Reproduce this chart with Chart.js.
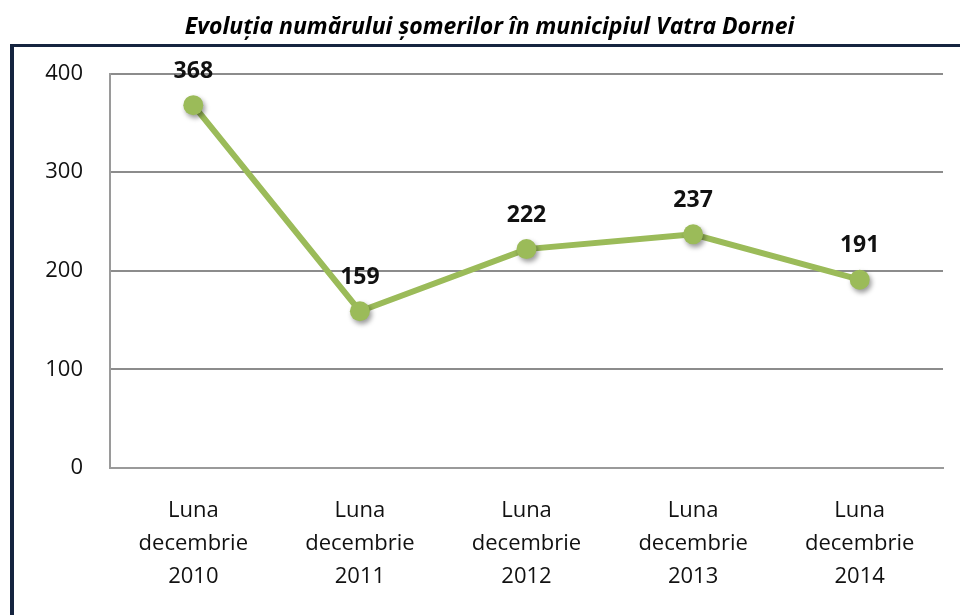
<!DOCTYPE html>
<html lang="ro">
<head>
<meta charset="utf-8">
<title>Evoluția numărului șomerilor</title>
<script src="https://cdn.jsdelivr.net/npm/chart.js@4/dist/chart.umd.min.js"></script>
<style>
    html, body { margin: 0; padding: 0; background: #ffffff; }
    body { width: 960px; height: 615px; overflow: hidden; position: relative; }
    .frame {
        position: absolute; left: 10px; top: 44px; width: 980px; height: 620px;
        border-left: 4px solid #15243f; border-top: 3px solid #15243f;
    }
    #somajChart { position: absolute; left: 0; top: 0; }
</style>
</head>
<body>
<div class="frame"></div>
<canvas id="somajChart" width="960" height="615"></canvas>
<script>
const chartTitle = 'Evoluția numărului șomerilor în municipiul Vatra Dornei';
const categories = [
    ['Luna', 'decembrie', '2010'],
    ['Luna', 'decembrie', '2011'],
    ['Luna', 'decembrie', '2012'],
    ['Luna', 'decembrie', '2013'],
    ['Luna', 'decembrie', '2014']
];
const someri = [368, 159, 222, 237, 191];
const yTicks = [0, 100, 200, 300, 400];

const FONT = "'Open Sans', 'Noto Sans', sans-serif";
const GREEN = '#9bbb59';

// drop shadow only under the markers (dataset 0)
const shadowPlugin = {
    id: 'shadow',
    beforeDatasetDraw(chart, args) {
        if (args.index !== 0) return;
        const ctx = chart.ctx;
        ctx.save();
        ctx.shadowColor = 'rgba(0, 0, 0, 0.4)';
        ctx.shadowBlur = 5;
        ctx.shadowOffsetX = 2;
        ctx.shadowOffsetY = 3;
    },
    afterDatasetDraw(chart, args) {
        if (args.index !== 0) return;
        chart.ctx.restore();
    }
};

// value labels above each point
const valueLabels = {
    id: 'valueLabels',
    afterDatasetsDraw(chart) {
        const ctx = chart.ctx;
        const meta = chart.getDatasetMeta(0);
        ctx.save();
        ctx.font = 'bold 23px ' + FONT;
        ctx.fillStyle = '#111111';
        ctx.textAlign = 'center';
        ctx.textBaseline = 'middle';
        meta.data.forEach((pt, i) => {
            ctx.fillText(String(someri[i]), pt.x, pt.y - 34);
        });
        ctx.restore();
    }
};

new Chart(document.getElementById('somajChart'), {
    type: 'line',
    data: {
        labels: categories,
        datasets: [{
            // markers, drawn on top
            data: someri,
            showLine: false,
            pointRadius: 10,
            pointBorderWidth: 0,
            pointBackgroundColor: GREEN,
            borderColor: GREEN
        }, {
            // connecting line
            data: someri,
            borderColor: GREEN,
            borderWidth: 6,
            pointRadius: 0,
            tension: 0,
            fill: false
        }]
    },
    options: {
        responsive: false,
        animation: false,
        layout: { padding: { left: 36, right: 17, top: 0, bottom: 0 } },
        plugins: {
            legend: { display: false },
            tooltip: { enabled: false },
            title: {
                display: true,
                text: chartTitle,
                color: '#000000',
                font: { family: FONT, size: 23, weight: 'bold', style: 'italic', lineHeight: 1.2 },
                padding: { top: 14, bottom: 32 }
            }
        },
        scales: {
            y: {
                min: 0,
                max: 400,
                afterBuildTicks(scale) {
                    scale.ticks = yTicks.map(v => ({ value: v }));
                },
                afterFit(scale) { scale.width = 74; },
                grid: {
                    color: '#8c8c8c',
                    lineWidth: 2,
                    drawTicks: false
                },
                border: { display: true, color: '#9a9a9a', width: 2 },
                ticks: {
                    color: '#111111',
                    padding: 27,
                    font: { family: FONT, size: 22 }
                }
            },
            x: {
                offset: true,
                afterFit(scale) { scale.height = 147; },
                grid: { display: false, drawTicks: false },
                border: { display: true, color: '#9a9a9a', width: 2 },
                ticks: {
                    color: '#111111',
                    padding: 26,
                    maxRotation: 0,
                    autoSkip: false,
                    font: { family: FONT, size: 22, lineHeight: 1.5 }
                }
            }
        }
    },
    plugins: [shadowPlugin, valueLabels]
});
</script>
</body>
</html>
